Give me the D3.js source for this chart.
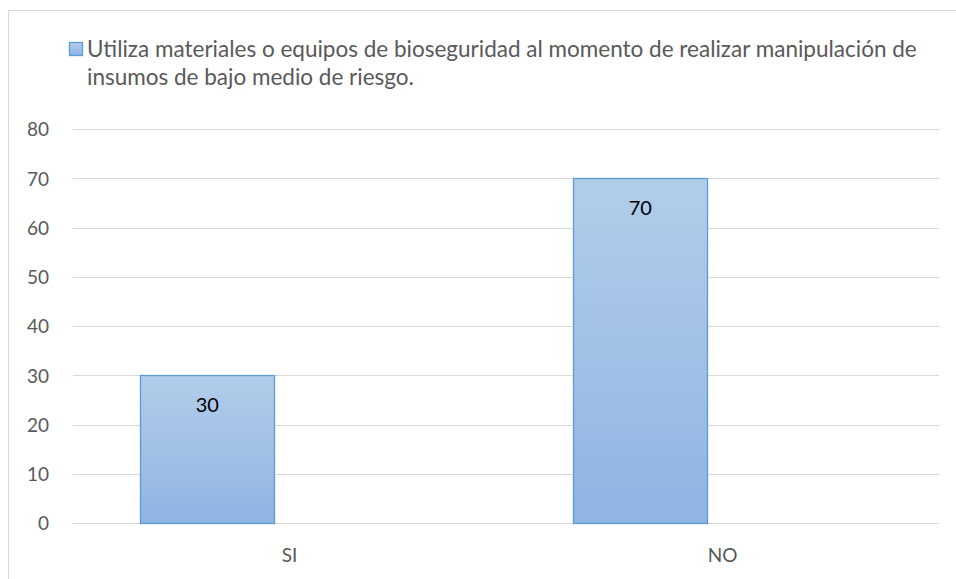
<!DOCTYPE html>
<html>
<head>
<meta charset="utf-8">
<script src="https://cdn.jsdelivr.net/npm/d3@7"></script>
<style>
  body { margin: 0; background: #fff; }
  text { font-family: Lato, "Open Sans", sans-serif; }
</style>
</head>
<body>
<div id="viz_container"></div>
<script>
// data
const categories = ["SI", "NO"];
const values = [30, 70];
const yTicks = [0, 10, 20, 30, 40, 50, 60, 70, 80];
const legendLines = [
  "Utiliza materiales o equipos de bioseguridad al momento de realizar manipulación de",
  "insumos de bajo medio de riesgo."
];

// dimensions
const W = 956, H = 579;
const margin = {top: 129, right: 17, bottom: 56, left: 73};
const width = W - margin.left - margin.right;
const height = H - margin.top - margin.bottom;

const root = d3.select("#viz_container")
  .append("svg")
    .attr("width", W)
    .attr("height", H);

// gradient for bars
const grad = root.append("defs").append("linearGradient")
    .attr("id", "barGrad")
    .attr("x1", 0).attr("y1", 0).attr("x2", 0).attr("y2", 1);
grad.append("stop").attr("offset", "0%").attr("stop-color", "#b2cdea");
grad.append("stop").attr("offset", "100%").attr("stop-color", "#8fb4e2");

// outer chart border
root.append("rect")
    .attr("x", 8.5).attr("y", 10.5)
    .attr("width", 970).attr("height", 600)
    .attr("fill", "none")
    .attr("stroke", "#d9d9d9");

const svg = root.append("g")
    .attr("transform", `translate(${margin.left}, ${margin.top})`);

// scales
const xScale = d3.scaleBand()
  .domain(categories)
  .range([0, width]);

const yScale = d3.scaleLinear()
  .domain([0, 80])
  .range([height, 0]);

// grid lines
svg.append("g")
  .selectAll("line")
  .data(yTicks)
  .join("line")
    .attr("x1", 0)
    .attr("x2", width)
    .attr("y1", d => Math.round(yScale(d)) + 0.5)
    .attr("y2", d => Math.round(yScale(d)) + 0.5)
    .attr("stroke", "#d9d9d9")
    .attr("stroke-width", 1);

// Y axis labels
svg.append("g")
  .call(d3.axisLeft(yScale).tickValues(yTicks).tickSize(0).tickPadding(24))
  .call(g => g.select(".domain").remove())
  .selectAll("text")
    .attr("fill", "#595959")
    .style("font-size", "19px")
    .style("font-family", "Lato, 'Open Sans', sans-serif")
    .attr("dy", "0.36em");

// X axis labels
svg.append("g")
  .attr("transform", `translate(0, ${height})`)
  .call(d3.axisBottom(xScale).tickSize(0).tickPadding(26))
  .call(g => g.select(".domain").remove())
  .selectAll("text")
    .attr("fill", "#595959")
    .style("font-size", "19px")
    .style("font-family", "Lato, 'Open Sans', sans-serif");

// bars
const barOffset = xScale.bandwidth() * 0.155;
const barWidth = xScale.bandwidth() * 0.31;

svg.append("g")
  .selectAll("rect")
  .data(values)
  .join("rect")
    .attr("x", (d, i) => Math.round(xScale(categories[i]) + barOffset) + 0.5)
    .attr("y", d => Math.round(yScale(d)) + 0.5)
    .attr("width", Math.round(barWidth))
    .attr("height", d => Math.round(height - yScale(d)))
    .attr("fill", "url(#barGrad)")
    .attr("stroke", "#5b9bd5")
    .attr("stroke-width", 1.3);

// data labels
svg.append("g")
  .selectAll("text")
  .data(values)
  .join("text")
    .attr("x", (d, i) => xScale(categories[i]) + barOffset + barWidth / 2)
    .attr("y", d => yScale(d) + 37)
    .attr("text-anchor", "middle")
    .attr("fill", "#000")
    .style("font-size", "20px")
    .text(d => d);

// legend
root.append("rect")
    .attr("x", 69.5).attr("y", 42.5)
    .attr("width", 13).attr("height", 13)
    .attr("fill", "url(#barGrad)")
    .attr("stroke", "#5b9bd5")
    .attr("stroke-width", 1.3);

root.append("g")
  .selectAll("text")
  .data(legendLines)
  .join("text")
    .attr("x", 87)
    .attr("y", (d, i) => 57 + i * 28)
    .attr("fill", "#595959")
    .style("font-size", "20px")
    .text(d => d)
    .each(function(d, i) {
      // fit first line to the width seen in the reference
      if (i === 0) {
        const len = this.getComputedTextLength();
        const fs = 20 * 830 / len;
        d3.select(this.parentNode).selectAll("text").style("font-size", fs + "px");
      }
    });
</script>
</body>
</html>
